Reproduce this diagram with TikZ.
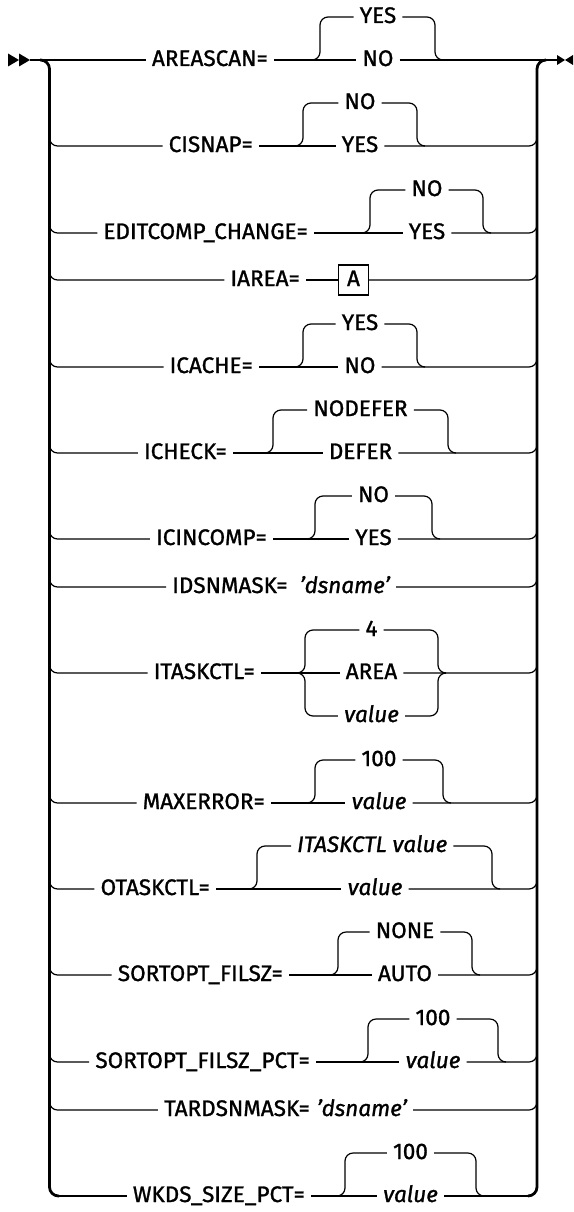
\documentclass[tikz,border=0pt]{standalone}
\usepackage{fontspec}
\setmainfont{Fira Sans}[FakeBold=1.2]
\usetikzlibrary{positioning}
\newcommand{\synfont}{\fontsize{22.5}{25}\selectfont}

\begin{document}
\begin{tikzpicture}[x=1pt, y=-1pt,
  rail/.style={line width=1.2pt},
  fork/.style={line width=1.2pt, rounded corners=8pt},
  bar/.style={line width=2.8pt, rounded corners=9pt},
  kw/.style={font=\synfont, inner xsep=6pt, inner ysep=0pt, text height=12pt, text depth=0pt},
  var/.style={kw, font=\synfont\itshape},
  tip/.style={fill=black}]
  \useasboundingbox (0,0) rectangle (573,1212);
  % start and stop marks
  \coordinate (start) at (30,60);
  \coordinate (stop) at (557,60);
  \fill[tip] (8,53.5) -- (19,60) -- (8,66.5) -- cycle;
  \fill[tip] (19,53.5) -- (start) -- (19,66.5) -- cycle;
  \fill[tip] (557,55) -- (565,60) -- (557,65) -- cycle;
  \fill[tip] (573,55) -- (565,60) -- (573,65) -- cycle;
  % the two bars
  \draw[bar] (40,60) -- (49.5,60) -- (49.5,1196) -- (59,1196);
  \draw[bar] (528,1196) -- (537,1196) -- (537,60) -- (546,60);

  % AREASCAN
  \node[kw, anchor=east] (areascan) at (274,60) {AREASCAN=};
  \node[kw] (yes1) at (378,17) {YES};
  \node[kw] (no1) at (378,60) {NO};
  \draw[rail] (start) -- (areascan.west) (areascan.east) -- (no1.west) (no1.east) -- (stop);
  \draw[fork] (312,60) -- (320,60) -- (320,17) -- (yes1.west);
  \draw[fork] (yes1.east) -- (435,17) -- (435,60) -- (443,60);

  % CISNAP
  \node[kw, anchor=east] (cisnap) at (259,146) {CISNAP=};
  \node[kw] (no2) at (360,103) {NO};
  \node[kw] (yes2) at (360,146) {YES};
  \draw[fork] (49.5,137) -- (49.5,146) -- (cisnap.west);
  \draw[rail] (cisnap.east) -- (yes2.west);
  \draw[fork] (yes2.east) -- (537,146) -- (537,137);
  \draw[fork] (295,146) -- (303,146) -- (303,103) -- (no2.west);
  \draw[fork] (no2.east) -- (417,103) -- (417,146) -- (425,146);

  % EDITCOMP_CHANGE
  \node[kw, anchor=east] (editcomp) at (314,233) {EDITCOMP\_CHANGE=};
  \node[kw] (no3) at (427,190) {NO};
  \node[kw] (yes3) at (427,233) {YES};
  \draw[fork] (49.5,224) -- (49.5,233) -- (editcomp.west);
  \draw[rail] (editcomp.east) -- (yes3.west);
  \draw[fork] (yes3.east) -- (537,233) -- (537,224);
  \draw[fork] (362,233) -- (370,233) -- (370,190) -- (no3.west);
  \draw[fork] (no3.east) -- (483,190) -- (483,233) -- (491,233);

  % IAREA
  \node[kw, anchor=east] (iarea) at (306,280) {IAREA=};
  \node[kw, draw, line width=1.2pt, minimum width=30pt, minimum height=30pt, inner xsep=0pt] (boxA) at (353.5,280) {A};
  \draw[fork] (49.5,271) -- (49.5,280) -- (iarea.west);
  \draw[rail] (iarea.east) -- (boxA.west);
  \draw[fork] (boxA.east) -- (537,280) -- (537,271);

  % ICACHE
  \node[kw, anchor=east] (icache) at (259,367) {ICACHE=};
  \node[kw] (yes5) at (360,324) {YES};
  \node[kw] (no5) at (360,367) {NO};
  \draw[fork] (49.5,358) -- (49.5,367) -- (icache.west);
  \draw[rail] (icache.east) -- (no5.west);
  \draw[fork] (no5.east) -- (537,367) -- (537,358);
  \draw[fork] (295,367) -- (303,367) -- (303,324) -- (yes5.west);
  \draw[fork] (yes5.east) -- (417,324) -- (417,367) -- (425,367);

  % ICHECK
  \node[kw, anchor=east] (icheck) at (233,453) {ICHECK=};
  \node[kw] (nodefer) at (360.5,410) {NODEFER};
  \node[kw] (defer) at (360.5,453) {DEFER};
  \draw[fork] (49.5,444) -- (49.5,453) -- (icheck.west);
  \draw[rail] (icheck.east) -- (defer.west);
  \draw[fork] (defer.east) -- (537,453) -- (537,444);
  \draw[fork] (265,453) -- (273,453) -- (273,410) -- (nodefer.west);
  \draw[fork] (nodefer.east) -- (448,410) -- (448,453) -- (456,453);

  % ICINCOMP
  \node[kw, anchor=east] (icincomp) at (273,539) {ICINCOMP=};
  \node[kw] (no7) at (373.5,496) {NO};
  \node[kw] (yes7) at (373.5,539) {YES};
  \draw[fork] (49.5,530) -- (49.5,539) -- (icincomp.west);
  \draw[rail] (icincomp.east) -- (yes7.west);
  \draw[fork] (yes7.east) -- (537,539) -- (537,530);
  \draw[fork] (307,539) -- (315,539) -- (315,496) -- (no7.west);
  \draw[fork] (no7.east) -- (432,496) -- (432,539) -- (440,539);

  % IDSNMASK
  \node[var, anchor=east] (dsn8) at (396,587) {'dsname'};
  \node[kw, left=0pt of dsn8] (idsnmask) {IDSNMASK=};
  \draw[fork] (49.5,578) -- (49.5,587) -- (idsnmask.west);
  \draw[fork] (dsn8.east) -- (537,587) -- (537,578);

  % ITASKCTL
  \node[kw, anchor=east] (itaskctl) at (261,673) {ITASKCTL=};
  \node[kw] (four) at (371.5,630) {4};
  \node[kw] (area) at (371.5,673) {AREA};
  \node[var] (val9) at (371.5,716) {value};
  \draw[fork] (49.5,664) -- (49.5,673) -- (itaskctl.west);
  \draw[rail] (itaskctl.east) -- (area.west);
  \draw[fork] (area.east) -- (537,673) -- (537,664);
  \draw[fork] (297,673) -- (305,673) -- (305,630) -- (four.west);
  \draw[fork] (297,673) -- (305,673) -- (305,716) -- (val9.west);
  \draw[fork] (four.east) -- (438,630) -- (438,673) -- (446,673);
  \draw[fork] (val9.east) -- (438,716) -- (438,673) -- (446,673);

  % MAXERROR
  \node[kw, anchor=east] (maxerror) at (271,803) {MAXERROR=};
  \node[kw] (hund10) at (379,760) {100};
  \node[var] (val10) at (379,803) {value};
  \draw[fork] (49.5,794) -- (49.5,803) -- (maxerror.west);
  \draw[rail] (maxerror.east) -- (val10.west);
  \draw[fork] (val10.east) -- (537,803) -- (537,794);
  \draw[fork] (307,803) -- (315,803) -- (315,760) -- (hund10.west);
  \draw[fork] (hund10.east) -- (443,760) -- (443,803) -- (451,803);

  % OTASKCTL
  \node[kw, anchor=east] (otaskctl) at (216,889) {OTASKCTL=};
  \node[var, anchor=west] (itval) at (291,846) {ITASKCTL value\ };
  \node[var] (val11) at (375,889) {value};
  \draw[fork] (49.5,880) -- (49.5,889) -- (otaskctl.west);
  \draw[rail] (otaskctl.east) -- (val11.west);
  \draw[fork] (val11.east) -- (537,889) -- (537,880);
  \draw[fork] (249,889) -- (257,889) -- (257,846) -- (itval.west);
  \draw[fork] (itval.east) -- (492,846) -- (492,889) -- (500,889);

  % SORTOPT_FILSZ
  \node[kw, anchor=east] (filsz) at (289,975) {SORTOPT\_FILSZ=};
  \node[kw] (none) at (405,932) {NONE};
  \node[kw] (auto) at (405,975) {AUTO};
  \draw[fork] (49.5,966) -- (49.5,975) -- (filsz.west);
  \draw[rail] (filsz.east) -- (auto.west);
  \draw[fork] (auto.east) -- (537,975) -- (537,966);
  \draw[fork] (330,975) -- (338,975) -- (338,932) -- (none.west);
  \draw[fork] (none.east) -- (472,932) -- (472,975) -- (480,975);

  % SORTOPT_FILSZ_PCT
  \node[kw, anchor=east] (filszpct) at (316,1062) {SORTOPT\_FILSZ\_PCT=};
  \node[kw] (hund13) at (433,1019) {100};
  \node[var] (val13) at (433,1062) {value};
  \draw[fork] (49.5,1053) -- (49.5,1062) -- (filszpct.west);
  \draw[rail] (filszpct.east) -- (val13.west);
  \draw[fork] (val13.east) -- (537,1062) -- (537,1053);
  \draw[fork] (360,1062) -- (368,1062) -- (368,1019) -- (hund13.west);
  \draw[fork] (hund13.east) -- (498,1019) -- (498,1062) -- (506,1062);

  % TARDSNMASK
  \node[var, anchor=east] (dsn14) at (413,1110) {'dsname'};
  \node[kw, anchor=east] (tardsn) at (316,1110) {TARDSNMASK=};
  \draw[fork] (49.5,1101) -- (49.5,1110) -- (tardsn.west);
  \draw[fork] (dsn14.east) -- (537,1110) -- (537,1101);

  % WKDS_SIZE_PCT
  \node[kw, anchor=east] (wkds) at (311,1196) {WKDS\_SIZE\_PCT=};
  \node[kw] (hund15) at (410.5,1153) {100};
  \node[var] (val15) at (410.5,1196) {value};
  \draw[rail] (59,1196) -- (wkds.west) (wkds.east) -- (val15.west) (val15.east) -- (528,1196);
  \draw[fork] (337,1196) -- (345,1196) -- (345,1153) -- (hund15.west);
  \draw[fork] (hund15.east) -- (476,1153) -- (476,1196) -- (484,1196);
\end{tikzpicture}
\end{document}
